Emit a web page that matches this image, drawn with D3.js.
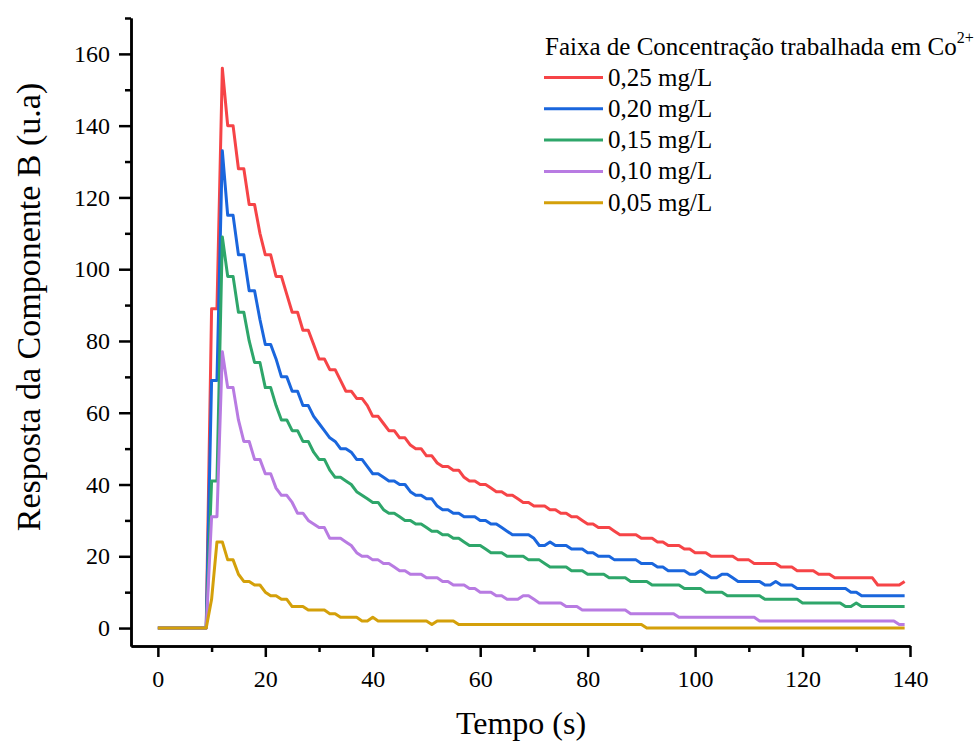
<!DOCTYPE html>
<html>
<head>
<meta charset="utf-8">
<script src="https://cdn.jsdelivr.net/npm/d3@7"></script>
<style>
	body { margin: 0; background: #fff; }
	svg { display: block; }
	text { font-family: "Liberation Serif", "Times New Roman", serif; fill: #000; }
</style>
</head>
<body>
<svg id="chart" width="979" height="742"></svg>
<script>
// amostragem de 1 s, de 0 a 139 s
var tempo = d3.range(0, 140, 1);

var r025 = [0,0,0,0,0,0,0,0,0,0,
	89,89,156,140,140,128,128,118,118,110,
	104,104,98,98,93,88,88,83,83,79,
	75,75,72,72,69,66,66,64,64,62,
	59,59,57,55,55,53,53,51,50,50,
	48,48,46,45,45,44,44,42,41,41,
	40,40,39,38,38,37,37,36,35,35,
	34,34,34,33,33,32,32,31,31,30,
	29,29,28,28,28,27,26,26,26,26,
	25,25,25,24,24,23,23,23,22,22,
	21,21,21,20,20,20,20,20,19,19,
	19,18,18,18,18,18,17,17,17,16,
	16,16,16,15,15,15,14,14,14,14,
	14,14,14,14,12,12,12,12,12,13];

var r020 = [0,0,0,0,0,0,0,0,0,0,
	69,69,133,115,115,104,104,94,94,86,
	79,79,75,70,70,66,66,62,62,59,
	57,55,53,52,50,50,49,47,47,45,
	43,43,42,41,41,40,40,38,37,37,
	36,36,34,33,33,32,32,31,31,31,
	30,30,29,29,28,27,26,26,26,26,
	25,23,23,24,23,23,23,22,22,22,
	21,21,20,20,20,19,19,19,19,19,
	18,18,18,17,17,16,16,16,16,15,
	15,16,15,14,14,15,15,14,13,13,
	13,13,13,12,12,13,12,12,12,11,
	11,11,11,11,11,11,11,11,11,10,
	10,9,9,9,9,9,9,9,9,9];

var r015 = [0,0,0,0,0,0,0,0,0,0,
	41,41,109,98,98,88,88,80,74,74,
	67,67,62,58,58,55,55,52,52,49,
	47,47,44,42,42,41,40,38,37,36,
	35,35,33,32,32,31,30,30,29,29,
	28,27,27,26,26,25,25,24,23,23,
	23,22,21,21,21,20,20,20,20,19,
	19,19,18,17,17,17,17,16,16,16,
	15,15,15,15,14,14,14,14,13,13,
	13,13,12,12,12,12,12,12,11,11,
	11,11,10,10,10,10,9,9,9,9,
	9,9,9,8,8,8,8,8,8,8,
	7,7,7,7,7,7,7,7,6,6,
	7,6,6,6,6,6,6,6,6,6];

var r010 = [0,0,0,0,0,0,0,0,0,0,
	31,31,77,67,67,58,52,52,47,47,
	43,43,39,37,37,35,32,32,30,29,
	28,28,25,25,25,24,23,21,20,20,
	19,19,18,18,17,16,16,15,15,15,
	14,14,14,13,13,12,12,12,11,11,
	10,10,10,9,9,8,8,8,9,9,
	8,7,7,7,7,7,6,6,6,5,
	5,5,5,5,5,5,5,5,4,4,
	4,4,4,4,4,4,4,3,3,3,
	3,3,3,3,3,3,3,3,3,3,
	3,3,2,2,2,2,2,2,2,2,
	2,2,2,2,2,2,2,2,2,2,
	2,2,2,2,2,2,2,2,1,1];

var r005 = [0,0,0,0,0,0,0,0,0,0,
	8,24,24,19,19,15,13,13,12,12,
	10,9,9,8,8,6,6,6,5,5,
	5,5,4,4,3,3,3,3,2,2,
	3,2,2,2,2,2,2,2,2,2,
	2,1,2,2,2,2,1,1,1,1,
	1,1,1,1,1,1,1,1,1,1,
	1,1,1,1,1,1,1,1,1,1,
	1,1,1,1,1,1,1,1,1,1,
	1,0,0,0,0,0,0,0,0,0,
	0,0,0,0,0,0,0,0,0,0,
	0,0,0,0,0,0,0,0,0,0,
	0,0,0,0,0,0,0,0,0,0,
	0,0,0,0,0,0,0,0,0,0];

var rotulos = ["0,25 mg/L", "0,20 mg/L", "0,15 mg/L", "0,10 mg/L", "0,05 mg/L"];
var series = [r025, r020, r015, r010, r005];
var cores = ["#f64447", "#1a66dd", "#2ea66a", "#b87be2", "#d4a00a"];

var xMajor = [0, 20, 40, 60, 80, 100, 120, 140];
var xMinor = [10, 30, 50, 70, 90, 110, 130];
var yMajor = [0, 20, 40, 60, 80, 100, 120, 140, 160];
var yMinor = [10, 30, 50, 70, 90, 110, 130, 150, 170];

var svg = d3.select("#chart");

var x = d3.scaleLinear().domain([-5, 140]).range([131, 910]);
var y = d3.scaleLinear().domain([-5, 170]).range([646, 18]);

///////////////////////////
// axes
///////////////////////////
function styleAxis(g){
	g.selectAll("path.domain").attr("stroke", "#000").attr("stroke-width", 2.5);
	g.selectAll(".tick line").attr("stroke", "#000").attr("stroke-width", 2.5);
	g.selectAll(".tick text").style("font-size", "24px")
		.style("font-family", "'Liberation Serif', 'Times New Roman', serif");
}

// minor ticks first, under the main axis
svg.append("g").attr("transform", "translate(0," + y(-5) + ")")
	.call(d3.axisBottom(x).tickValues(xMinor).tickSize(6).tickSizeOuter(0).tickFormat(""))
	.call(styleAxis);
svg.append("g").attr("transform", "translate(" + x(-5) + ",0)")
	.call(d3.axisLeft(y).tickValues(yMinor).tickSize(6).tickSizeOuter(0).tickFormat(""))
	.call(styleAxis);

svg.append("g").attr("class", "x axis")
	.attr("transform", "translate(0," + y(-5) + ")")
	.call(d3.axisBottom(x).tickValues(xMajor).tickSize(11).tickSizeOuter(0).tickPadding(13))
	.call(styleAxis);

svg.append("g").attr("class", "y axis")
	.attr("transform", "translate(" + x(-5) + ",0)")
	.call(d3.axisLeft(y).tickValues(yMajor).tickSize(12).tickSizeOuter(0).tickPadding(9))
	.call(styleAxis);

// axis titles
svg.append("text")
	.attr("x", 521).attr("y", 734)
	.attr("text-anchor", "middle")
	.style("font-size", "32px")
	.text("Tempo (s)");

svg.append("text")
	.attr("transform", "translate(40,307) rotate(-90)")
	.attr("text-anchor", "middle")
	.style("font-size", "34px")
	.text("Resposta da Componente B (u.a)");

///////////////////////////
// lines
///////////////////////////
var line = d3.line()
	.x(function(d, i){ return x(tempo[i]); })
	.y(function(d){ return y(d); });

svg.append("g").selectAll("path.serie")
	.data(series).enter()
	.append("path").attr("class", "serie")
	.attr("d", line)
	.attr("fill", "none")
	.attr("stroke", function(d, i){ return cores[i]; })
	.attr("stroke-width", 3)
	.attr("stroke-linejoin", "round");

///////////////////////////
// legend
///////////////////////////
var leg = svg.append("g");

var titulo = leg.append("text")
	.attr("x", 545).attr("y", 55)
	.style("font-size", "25px");
titulo.append("tspan").text("Faixa de Concentração trabalhada em Co");
titulo.append("tspan").attr("dy", -12).style("font-size", "16px").text("2+");

var item = leg.selectAll("g.item").data(rotulos).enter()
	.append("g").attr("class", "item")
	.attr("transform", function(d, i){ return "translate(0," + (77.5 + i * 31.3) + ")"; });

item.append("line")
	.attr("x1", 544).attr("x2", 603)
	.attr("stroke", function(d, i){ return cores[i]; })
	.attr("stroke-width", 3);

item.append("text")
	.attr("x", 608).attr("y", 8)
	.style("font-size", "25px")
	.text(function(d){ return d; });
</script>
</body>
</html>
